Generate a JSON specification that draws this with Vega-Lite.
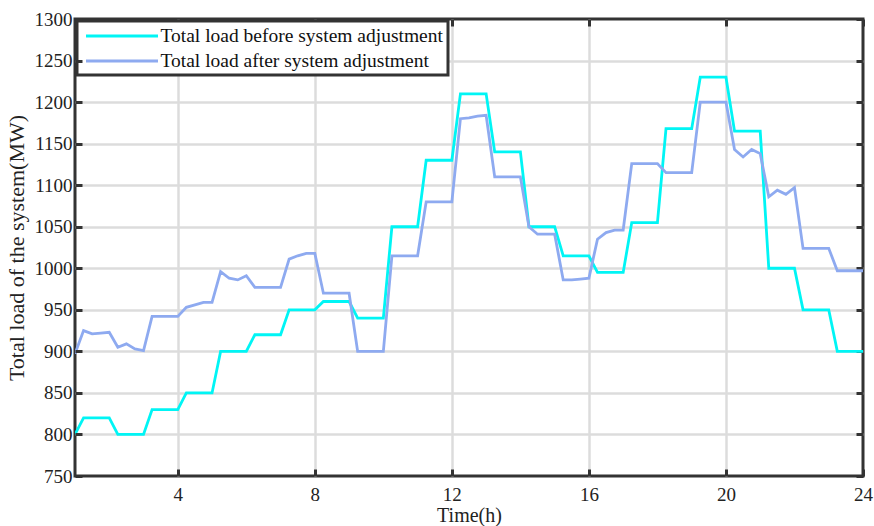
{
  "$schema": "https://vega.github.io/schema/vega-lite/v6.json",
  "width": 788,
  "height": 457,
  "autosize": {"type": "none"},
  "padding": {"left": 75, "top": 19, "right": 11, "bottom": 50},
  "background": "white",
  "config": {
    "font": "Liberation Serif",
    "view": {"stroke": "#333333", "strokeWidth": 3},
    "axis": {
      "labelFont": "Liberation Serif",
      "titleFont": "Liberation Serif",
      "labelColor": "#222222",
      "titleColor": "#222222",
      "titleFontWeight": "normal",
      "domain": false,
      "tickColor": "#333333",
      "tickWidth": 3,
      "tickSize": -7,
      "gridColor": "#dcdcdc",
      "gridWidth": 2.5
    },
    "legend": {
      "strokeColor": "#333333",
      "strokeWidth": 3,
      "fillColor": "white",
      "labelFont": "Liberation Serif",
      "labelFontSize": 19.5,
      "labelColor": "#111111",
      "labelLimit": 0
    }
  },
  "data": {
    "values": [
      {"t": 1, "before": 800, "after": 897},
      {"t": 1.25, "before": 820, "after": 925},
      {"t": 1.5, "before": 820, "after": 921},
      {"t": 1.75, "before": 820, "after": 922},
      {"t": 2, "before": 820, "after": 923},
      {"t": 2.25, "before": 800, "after": 905},
      {"t": 2.5, "before": 800, "after": 909},
      {"t": 2.75, "before": 800, "after": 903},
      {"t": 3, "before": 800, "after": 901},
      {"t": 3.25, "before": 830, "after": 942},
      {"t": 3.5, "before": 830, "after": 942},
      {"t": 3.75, "before": 830, "after": 942},
      {"t": 4, "before": 830, "after": 942},
      {"t": 4.25, "before": 850, "after": 953},
      {"t": 4.5, "before": 850, "after": 956},
      {"t": 4.75, "before": 850, "after": 959},
      {"t": 5, "before": 850, "after": 959},
      {"t": 5.25, "before": 900, "after": 996},
      {"t": 5.5, "before": 900, "after": 988},
      {"t": 5.75, "before": 900, "after": 986},
      {"t": 6, "before": 900, "after": 991},
      {"t": 6.25, "before": 920, "after": 977},
      {"t": 6.5, "before": 920, "after": 977},
      {"t": 6.75, "before": 920, "after": 977},
      {"t": 7, "before": 920, "after": 977},
      {"t": 7.25, "before": 950, "after": 1011},
      {"t": 7.5, "before": 950, "after": 1015},
      {"t": 7.75, "before": 950, "after": 1018},
      {"t": 8, "before": 950, "after": 1018},
      {"t": 8.25, "before": 960, "after": 970},
      {"t": 8.5, "before": 960, "after": 970},
      {"t": 8.75, "before": 960, "after": 970},
      {"t": 9, "before": 960, "after": 970},
      {"t": 9.25, "before": 940, "after": 900},
      {"t": 9.5, "before": 940, "after": 900},
      {"t": 9.75, "before": 940, "after": 900},
      {"t": 10, "before": 940, "after": 900},
      {"t": 10.25, "before": 1050, "after": 1015},
      {"t": 10.5, "before": 1050, "after": 1015},
      {"t": 10.75, "before": 1050, "after": 1015},
      {"t": 11, "before": 1050, "after": 1015},
      {"t": 11.25, "before": 1130, "after": 1080},
      {"t": 11.5, "before": 1130, "after": 1080},
      {"t": 11.75, "before": 1130, "after": 1080},
      {"t": 12, "before": 1130, "after": 1080},
      {"t": 12.25, "before": 1210, "after": 1180},
      {"t": 12.5, "before": 1210, "after": 1181},
      {"t": 12.75, "before": 1210, "after": 1183},
      {"t": 13, "before": 1210, "after": 1184},
      {"t": 13.25, "before": 1140, "after": 1110},
      {"t": 13.5, "before": 1140, "after": 1110},
      {"t": 13.75, "before": 1140, "after": 1110},
      {"t": 14, "before": 1140, "after": 1110},
      {"t": 14.25, "before": 1050, "after": 1050},
      {"t": 14.5, "before": 1050, "after": 1041},
      {"t": 14.75, "before": 1050, "after": 1041},
      {"t": 15, "before": 1050, "after": 1041},
      {"t": 15.25, "before": 1015, "after": 986},
      {"t": 15.5, "before": 1015, "after": 986},
      {"t": 15.75, "before": 1015, "after": 987},
      {"t": 16, "before": 1015, "after": 988},
      {"t": 16.25, "before": 995, "after": 1035},
      {"t": 16.5, "before": 995, "after": 1043},
      {"t": 16.75, "before": 995, "after": 1046},
      {"t": 17, "before": 995, "after": 1046},
      {"t": 17.25, "before": 1055, "after": 1126},
      {"t": 17.5, "before": 1055, "after": 1126},
      {"t": 17.75, "before": 1055, "after": 1126},
      {"t": 18, "before": 1055, "after": 1126},
      {"t": 18.25, "before": 1168, "after": 1115},
      {"t": 18.5, "before": 1168, "after": 1115},
      {"t": 18.75, "before": 1168, "after": 1115},
      {"t": 19, "before": 1168, "after": 1115},
      {"t": 19.25, "before": 1230, "after": 1200},
      {"t": 19.5, "before": 1230, "after": 1200},
      {"t": 19.75, "before": 1230, "after": 1200},
      {"t": 20, "before": 1230, "after": 1200},
      {"t": 20.25, "before": 1165, "after": 1143},
      {"t": 20.5, "before": 1165, "after": 1134},
      {"t": 20.75, "before": 1165, "after": 1143},
      {"t": 21, "before": 1165, "after": 1138},
      {"t": 21.25, "before": 1000, "after": 1086},
      {"t": 21.5, "before": 1000, "after": 1094},
      {"t": 21.75, "before": 1000, "after": 1089},
      {"t": 22, "before": 1000, "after": 1097},
      {"t": 22.25, "before": 950, "after": 1024},
      {"t": 22.5, "before": 950, "after": 1024},
      {"t": 22.75, "before": 950, "after": 1024},
      {"t": 23, "before": 950, "after": 1024},
      {"t": 23.25, "before": 900, "after": 997},
      {"t": 23.5, "before": 900, "after": 997},
      {"t": 23.75, "before": 900, "after": 997},
      {"t": 24, "before": 900, "after": 997}
    ]
  },
  "transform": [
    {"fold": ["before", "after"], "as": ["series", "load"]}
  ],
  "resolve": {"axis": {"x": "independent", "y": "independent"}},
  "layer": [
    {
      "mark": {"type": "line", "strokeWidth": 2.8, "clip": true},
      "encoding": {
        "x": {
          "field": "t",
          "type": "quantitative",
          "scale": {"domain": [1, 24], "nice": false, "zero": false},
          "axis": {
            "orient": "bottom",
            "values": [4, 8, 12, 16, 20, 24],
            "title": "Time(h)",
            "titleFontSize": 20,
            "titlePadding": 1,
            "labelFontSize": 19,
            "labelPadding": 16,
            "labelFlush": false,
            "grid": false,
            "zindex": 1
          }
        },
        "y": {
          "field": "load",
          "type": "quantitative",
          "scale": {"domain": [750, 1300], "nice": false, "zero": false},
          "axis": {
            "orient": "left",
            "values": [750, 800, 850, 900, 950, 1000, 1050, 1100, 1150, 1200, 1250, 1300],
            "format": "d",
            "title": "Total load of the system(MW)",
            "titleFontSize": 22,
            "titlePadding": 6,
            "labelFontSize": 19,
            "labelPadding": 10,
            "labelFlush": false,
            "grid": false,
            "zindex": 1
          }
        },
        "color": {
          "field": "series",
          "type": "nominal",
          "scale": {"domain": ["before", "after"], "range": ["#00f5f5", "#8eaaf0"]},
          "legend": {
            "title": null,
            "orient": "top-left",
            "offset": 2,
            "padding": 4.5,
            "rowPadding": 5,
            "symbolType": "M-4,0H4",
            "symbolSize": 324,
            "symbolStrokeWidth": 3,
            "symbolOffset": 30,
            "labelOffset": 28,
            "labelExpr": "datum.label == 'before' ? 'Total load before system adjustment' : 'Total load after system adjustment'"
          }
        }
      }
    },
    {
      "mark": {"type": "line", "opacity": 0},
      "encoding": {
        "x": {
          "field": "t",
          "type": "quantitative",
          "axis": {
            "orient": "top",
            "values": [4, 8, 12, 16, 20, 24],
            "labels": false,
            "title": null,
            "grid": true,
            "gridOpacity": {"condition": {"test": "datum.value >= 24", "value": 0}, "value": 1},
            "zindex": 0
          }
        },
        "y": {
          "field": "load",
          "type": "quantitative",
          "axis": {
            "orient": "right",
            "values": [750, 800, 850, 900, 950, 1000, 1050, 1100, 1150, 1200, 1250, 1300],
            "labels": false,
            "title": null,
            "grid": true,
            "gridOpacity": {"condition": {"test": "datum.value <= 750 || datum.value >= 1300", "value": 0}, "value": 1},
            "zindex": 0
          }
        }
      }
    }
  ]
}
